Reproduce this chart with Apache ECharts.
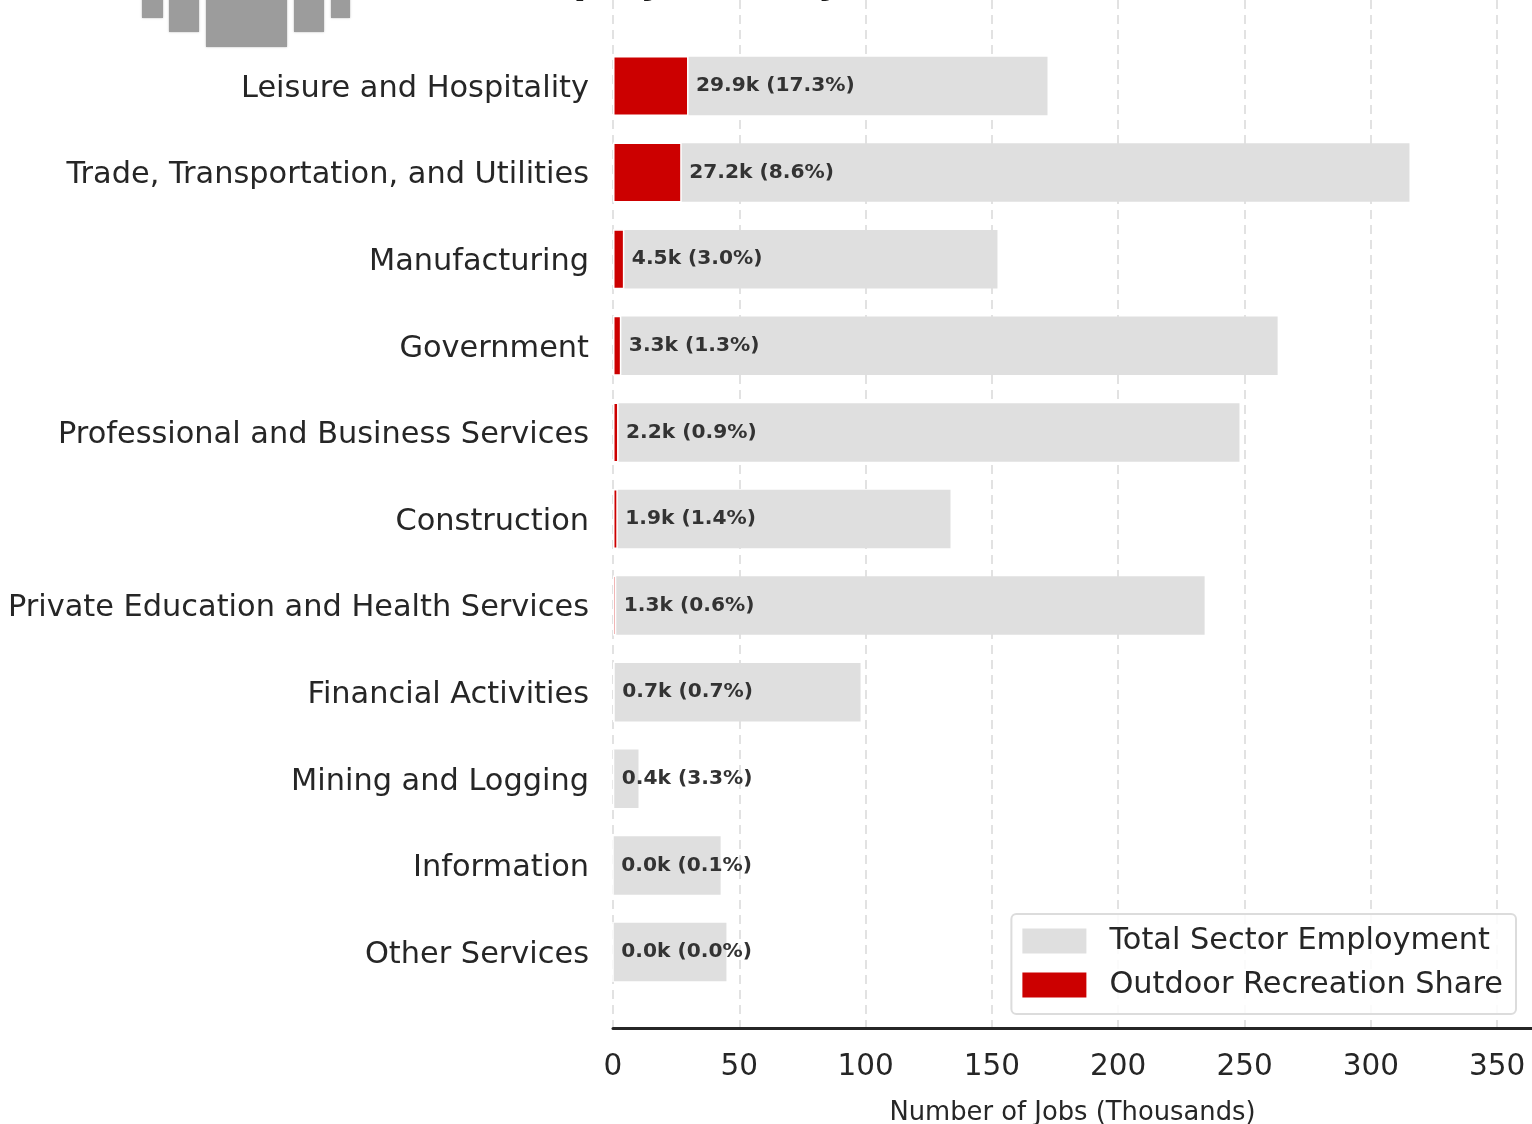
<!DOCTYPE html>
<html><head><meta charset="utf-8">
<style>html,body{margin:0;padding:0;background:#fff;overflow:hidden}#c{width:1532px;height:1124px}</style>
<script src="https://cdn.jsdelivr.net/npm/echarts@6/dist/echarts.min.js"></script>
</head><body><div id="c"></div>
<script>
const categories = ["Leisure and Hospitality","Trade, Transportation, and Utilities","Manufacturing","Government","Professional and Business Services","Construction","Private Education and Health Services","Financial Activities","Mining and Logging","Information","Other Services"];
const totalJobs = [172.0,315.3,152.2,263.1,248.0,133.6,234.2,98.0,10.1,42.6,44.9];
const outdoorJobs = [29.9,27.2,4.5,3.3,2.2,1.9,1.3,0.7,0.4,0.0,0.0];
const sharePct = ["17.3","8.6","3.0","1.3","0.9","1.4","0.6","0.7","3.3","0.1","0.0"];
const titleText = "Employment by Sector (2023)";
const FONT = '"DejaVu Sans"';
const LOGO = '#9c9c9c';
const chart = echarts.init(document.getElementById('c'), null, {renderer:'canvas'});
const logoRects = [[142,21,17],[169,30,31],[206,81,46],[294,30,31],[331,19,17]];
chart.setOption({
  animation:false,
  backgroundColor:'#fff',
  textStyle:{fontFamily:FONT},
  grid:[
    {left:613,top:42.7,width:919,height:952.6,outerBoundsMode:'none'},
    {left:613,top:0,width:919,height:1028,outerBoundsMode:'none'}
  ],
  graphic:{elements:[
    ...logoRects.map(r=>({type:'rect',left:r[0],top:-2,shape:{width:r[1],height:r[2]+3},style:{fill:LOGO,shadowBlur:2,shadowColor:'rgba(156,156,156,0.7)'},silent:true})),
    {type:'text',x:507,y:-17,silent:true,z:10,style:{text:titleText,fill:'#1a1a1a',fontSize:38.4,fontWeight:'bold',fontFamily:'DejaVu Sans',align:'left',verticalAlign:'middle'}}
  ]},
  legend:{
    right:16,top:914,orient:'vertical',itemWidth:64,itemHeight:25,itemGap:14,icon:'rect',
    borderColor:'#dcdcdc',borderWidth:2,borderRadius:5,padding:[12,13,14,11],backgroundColor:'rgba(255,255,255,0.85)',
    data:['Total Sector Employment','Outdoor Recreation Share'],
    textStyle:{fontSize:30.4,color:'#262626',fontFamily:FONT,padding:[0,0,0,18]},
    itemStyle:{borderWidth:0}
  },
  xAxis:[
    {gridIndex:0,type:'value',min:0,max:363.8,show:false},
    {gridIndex:1,type:'value',min:0,max:363.8,interval:50,
    name:'Number of Jobs (Thousands)',nameLocation:'middle',nameGap:72,
    nameTextStyle:{fontSize:25.8,color:'#262626',fontFamily:FONT},
    axisLine:{show:true,onZero:false,lineStyle:{color:'#262626',width:3}},
    axisTick:{show:false},
    axisLabel:{fontSize:29.5,color:'#262626',margin:24,showMaxLabel:false,fontFamily:FONT},
    splitLine:{show:true,showMaxLine:false,lineStyle:{color:'#e2e2e2',width:2,type:[9,6]}}
  }],
  yAxis:[
    {gridIndex:0,type:'category',inverse:true,data:categories,
    axisLine:{show:false},axisTick:{show:false},splitLine:{show:false},
    axisLabel:{margin:24,formatter:v=>'{a|'+v+'}',
      rich:{a:{fontSize:30.4,color:'#262626',fontFamily:FONT,padding:[6,0,0,0]}}}},
    {gridIndex:1,type:'value',min:0,max:1,show:false,splitLine:{show:false}},
    {gridIndex:0,type:'category',inverse:true,data:categories,show:false}
  ],
  series:[
    {name:'Total Sector Employment',type:'bar',xAxisIndex:0,yAxisIndex:0,barWidth:58.5,z:2,
      itemStyle:{color:'#dfdfdf'},
      data:totalJobs},
    {name:'Outdoor Recreation Share',type:'bar',xAxisIndex:0,yAxisIndex:2,barWidth:60,z:3,
      itemStyle:{color:'#cc0000',borderColor:'#fff',borderWidth:1.5},
      data:outdoorJobs,
      label:{show:true,position:'right',distance:7.5,fontSize:20.2,fontWeight:'bold',color:'#333',fontFamily:FONT,
        formatter:p=>outdoorJobs[p.dataIndex].toFixed(1)+'k ('+sharePct[p.dataIndex]+'%)'}}
  ]
});
</script></body></html>
